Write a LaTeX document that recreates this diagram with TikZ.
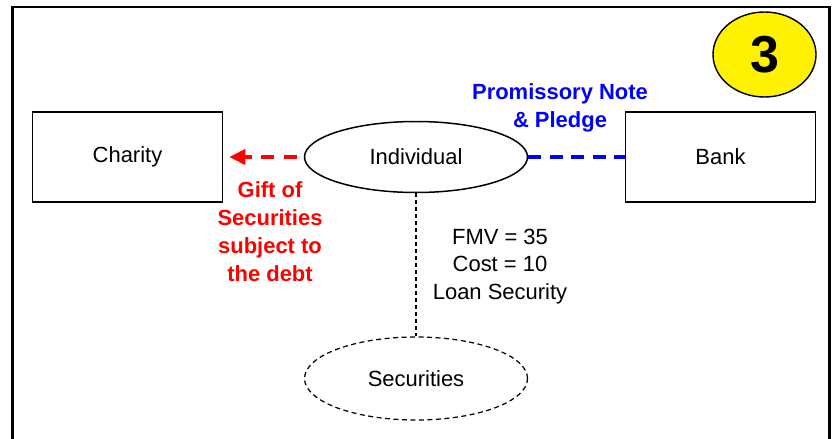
\documentclass[tikz,border=0pt]{standalone}
\usepackage{fontspec}
\setmainfont{Liberation Sans}
\usetikzlibrary{shapes.geometric,arrows.meta}

\begin{document}
\begin{tikzpicture}[
  txt/.style={font=\fontsize{12.5}{15.6}\selectfont,align=center},
  boldtxt/.style={font=\fontsize{12.5}{15.9}\selectfont\bfseries,align=center},
  box/.style={draw,line width=0.85pt,minimum width=3.8cm,minimum height=1.8cm,inner sep=0pt,txt},
  oval/.style={draw,ellipse,line width=0.85pt,minimum width=4.46cm,inner sep=0pt,txt},
  link/.style={line width=2.2pt,dash pattern=on 0.26cm off 0.19cm}
]
\newcommand{\frmL}{0.25}
\newcommand{\frmR}{16.58}
\newcommand{\frmT}{-0.14}
\newcommand{\frmB}{-8.9}
\newcommand{\rowy}{-3.14}

\useasboundingbox (0,0) rectangle (16.78,-8.78);
\draw [line width=1.7pt] (\frmL,\frmB) -- (\frmL,\frmT) -- (\frmR,\frmT) -- (\frmR,\frmB);

% the three parties
\node [box] (charity) at (2.55,\rowy) {Charity};
\node [box] (bank) at (14.41,\rowy) {Bank};
\node [oval,minimum height=1.42cm] (indiv) at (8.32,\rowy) {Individual};
\node [oval,line width=0.7pt,dash pattern=on 0.1cm off 0.07cm,minimum height=1.66cm] (secur) at (8.32,-7.57) {Securities};

\node [draw,ellipse,fill=yellow,line width=0.8pt,minimum width=2.06cm,minimum height=1.7cm,inner sep=0pt,font=\fontsize{29.6}{30}\selectfont\bfseries] (step3) at (15.29,-1.09) {3};

% labels
\node [txt] (values) at (10.0,-5.33) {FMV = 35\\Cost = 10\\Loan Security};
\node [boldtxt,red] (gift) at (5.4,-4.63) {Gift of\\Securities\\subject to\\the debt};
\node [boldtxt,blue] (note) at (11.2,-2.16) {Promissory Note\\\& Pledge};

% connectors
\draw [link,red,-{Triangle[length=0.32cm,width=0.3cm]},shorten >=0.12cm,shorten <=0.14cm] (indiv) -- (charity);
\draw [link,blue,dash pattern=on 0.26cm off 0.17cm] (indiv) -- (bank);
\draw [line width=0.6pt,dash pattern=on 0.08cm off 0.06cm] (indiv) -- (secur);
\end{tikzpicture}
\end{document}
